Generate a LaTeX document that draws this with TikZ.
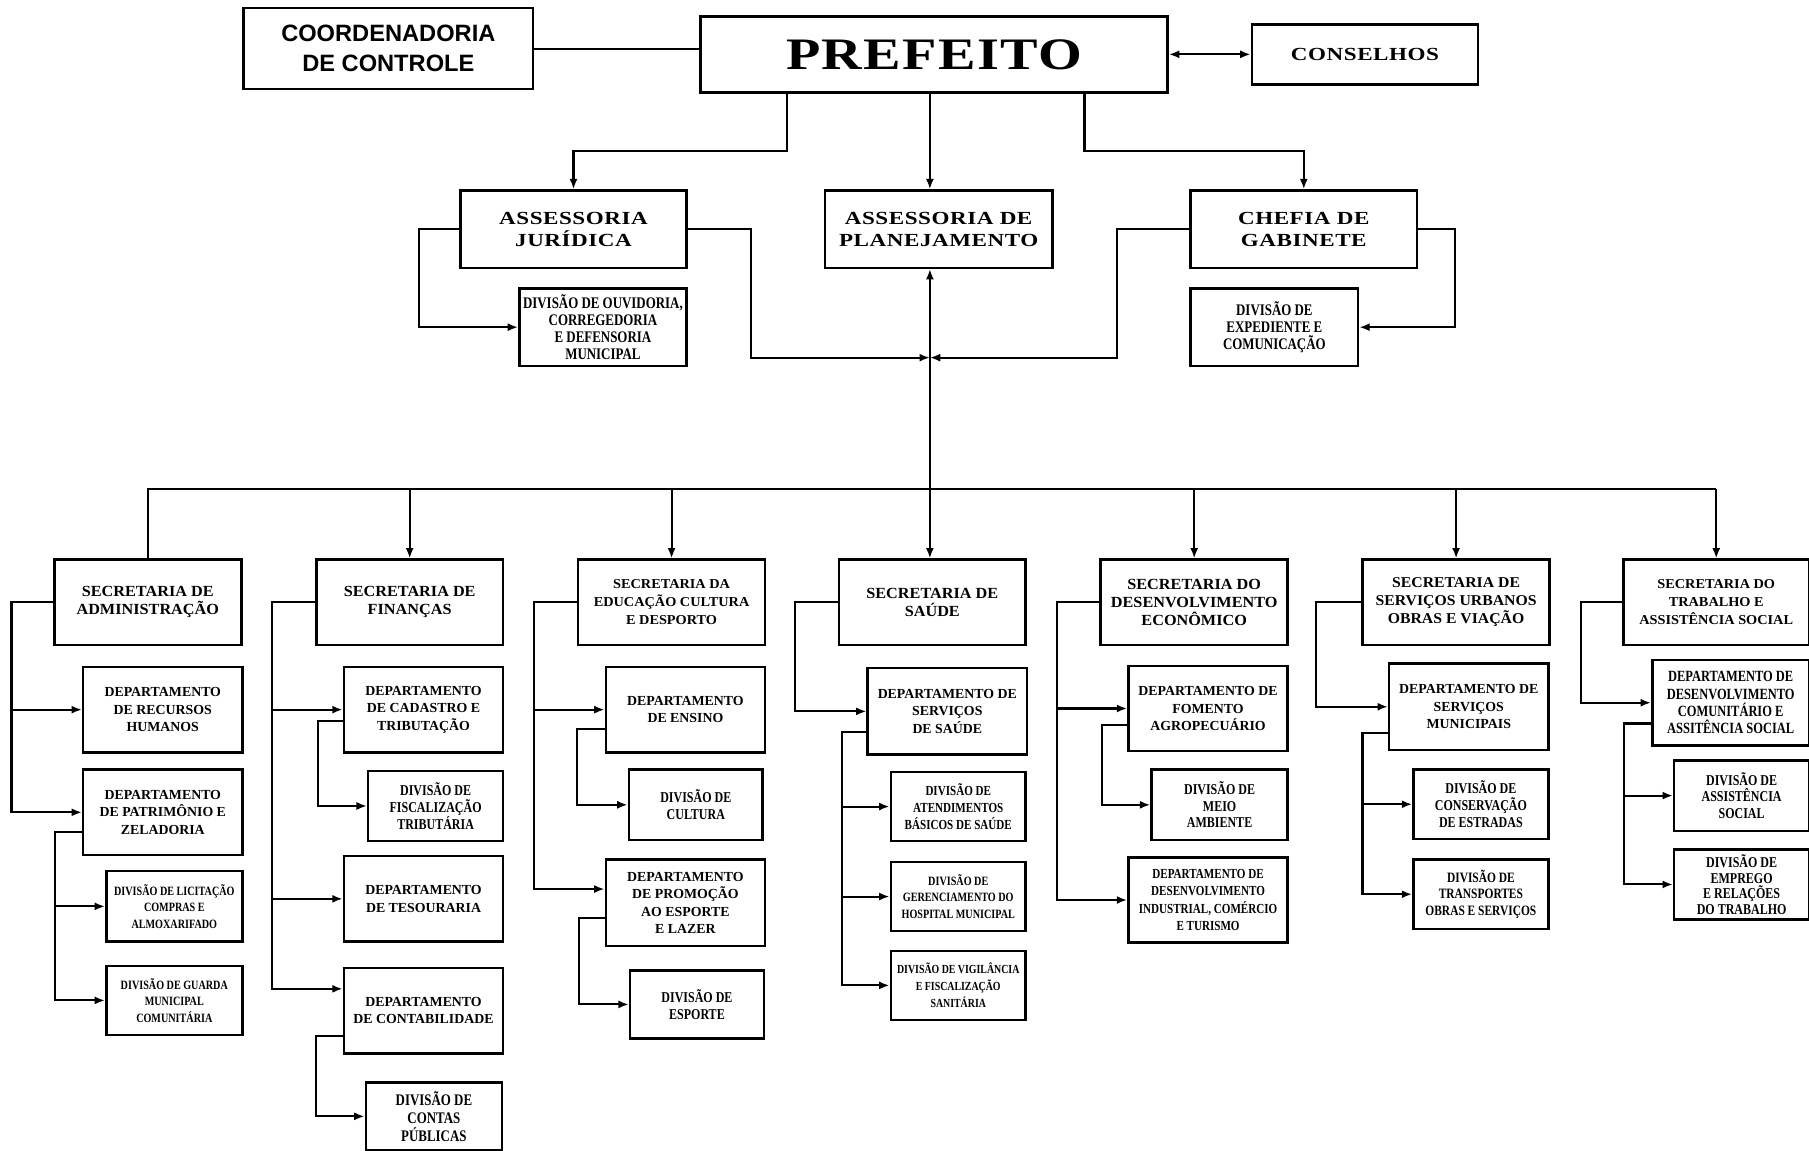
\documentclass[tikz,border=0pt]{standalone}
\usepackage{fontspec}
\setmainfont{Liberation Serif}
\setsansfont{Liberation Sans}
\newfontfamily\wideserif[FakeStretch=1.25,LetterSpace=3]{Liberation Serif}
\newfontfamily\secserif[FakeStretch=1.05]{Liberation Serif}
\newfontfamily\narrowserif[FakeStretch=0.8]{Liberation Serif}
\usetikzlibrary{arrows.meta}

\begin{document}
\begin{tikzpicture}[
  x=1pt, y=-1pt,
  box/.style={
    draw, line width=2.2pt, rectangle, fill=white,
    align=center, inner sep=0pt, anchor=north west
  },
  topbox/.style={box, minimum width=196pt, minimum height=67pt,
    font=\wideserif\bfseries\fontsize{16}{19}\selectfont},
  secbox/.style={box, minimum width=162pt, minimum height=74pt,
    font=\secserif\bfseries\fontsize{13.4}{15.5}\selectfont},
  depbox/.style={box, minimum width=138pt, minimum height=74pt,
    font=\bfseries\fontsize{12}{15}\selectfont},
  divbox/.style={box, minimum width=117pt, minimum height=61pt,
    font=\narrowserif\bfseries\fontsize{11}{14.5}\selectfont},
  divbig/.style={divbox,
    font=\narrowserif\bfseries\fontsize{13}{14.5}\selectfont},
  link/.style={line width=1.8pt},
  arr/.style={link, -{Latex[length=9pt,width=7pt]}},
  dblarr/.style={link, {Latex[length=9pt,width=7pt]}-{Latex[length=9pt,width=7pt]}}
]

\fill[white] (0,0) rectangle (1568,997);
\useasboundingbox (0,0) rectangle (1568,997);

\node[box, minimum width=251pt, minimum height=70pt,
  font=\sffamily\bfseries\fontsize{20.5}{26}\selectfont] (coord) at (210,6) {COORDENADORIA\\DE CONTROLE};

\node[box, minimum width=405pt, minimum height=66pt,
  font=\wideserif\bfseries\fontsize{39}{40}\selectfont] (pref) at (606,13) {PREFEITO};

\node[topbox, minimum height=52pt] (cons) at (1084,20) {CONSELHOS};

\node[topbox] (asjur) at (398,164) {ASSESSORIA\\JURÍDICA};
\node[topbox, minimum width=197pt] (asplan) at (714,164) {ASSESSORIA DE\\PLANEJAMENTO};
\node[topbox] (chefia) at (1031,164) {CHEFIA DE\\GABINETE};

\node[divbox, minimum width=145pt, minimum height=67pt,
  font=\narrowserif\bfseries\fontsize{14}{14.5}\selectfont] (ouv) at (449,249) {DIVISÃO DE OUVIDORIA,\\CORREGEDORIA\\E DEFENSORIA\\MUNICIPAL};
\node[divbox, minimum width=145pt, minimum height=67pt,
  font=\narrowserif\bfseries\fontsize{14}{15}\selectfont] (exped) at (1031,249) {DIVISÃO DE\\EXPEDIENTE E\\COMUNICAÇÃO};

\node[secbox] (secadm) at (46,484) {SECRETARIA DE\\ADMINISTRAÇÃO};
\node[secbox] (secfin) at (273,484) {SECRETARIA DE\\FINANÇAS};
\node[secbox, font=\secserif\bfseries\fontsize{11.8}{15.5}\selectfont] (secedu) at (500,484) {SECRETARIA DA\\EDUCAÇÃO CULTURA\\E DESPORTO};
\node[secbox] (secsau) at (726,484) {SECRETARIA DE\\SAÚDE};
\node[secbox] (secdes) at (953,484) {SECRETARIA DO\\DESENVOLVIMENTO\\ECONÔMICO};
\node[secbox, font=\secserif\bfseries\fontsize{13}{15.5}\selectfont] (securb) at (1180,484) {SECRETARIA DE\\SERVIÇOS URBANOS\\OBRAS E VIAÇÃO};
\node[secbox, minimum width=161pt, font=\secserif\bfseries\fontsize{11.8}{15.5}\selectfont] (sectrab) at (1406,484) {SECRETARIA DO\\TRABALHO E\\ASSISTÊNCIA SOCIAL};

\node[depbox] (deprh) at (71,577) {DEPARTAMENTO\\DE RECURSOS\\HUMANOS};
\node[depbox] (deppat) at (71,666) {DEPARTAMENTO\\DE PATRIMÔNIO E\\ZELADORIA};
\node[divbox, minimum width=118pt] (divlic) at (91,754) {DIVISÃO DE LICITAÇÃO\\COMPRAS E\\ALMOXARIFADO};
\node[divbox, minimum width=118pt, minimum height=60pt] (divgua) at (91,836) {DIVISÃO DE GUARDA\\MUNICIPAL\\COMUNITÁRIA};

\node[depbox] (depcad) at (297,577) {DEPARTAMENTO\\DE CADASTRO E\\TRIBUTAÇÃO};
\node[divbig] (divfis) at (318,667) {DIVISÃO DE\\FISCALIZAÇÃO\\TRIBUTÁRIA};
\node[depbox] (deptes) at (297,741) {DEPARTAMENTO\\DE TESOURARIA};
\node[depbox] (depcont) at (297,838) {DEPARTAMENTO\\DE CONTABILIDADE};
\node[divbig, minimum width=118pt, minimum height=59pt,
  font=\narrowserif\bfseries\fontsize{14}{15.5}\selectfont] (divcon) at (316,937) {DIVISÃO DE\\CONTAS\\PÚBLICAS};

\node[depbox] (depens) at (524,577) {DEPARTAMENTO\\DE ENSINO};
\node[divbig, minimum width=116pt] (divcul) at (544,666) {DIVISÃO DE\\CULTURA};
\node[depbox, minimum height=75pt] (depprom) at (524,744) {DEPARTAMENTO\\DE PROMOÇÃO\\AO ESPORTE\\E LAZER};
\node[divbig, minimum width=116pt, minimum height=59pt] (divesp) at (545,840) {DIVISÃO DE\\ESPORTE};

\node[depbox, minimum height=75pt] (depsau) at (751,578) {DEPARTAMENTO DE\\SERVIÇOS\\DE SAÚDE};
\node[divbig, minimum height=60pt, font=\narrowserif\bfseries\fontsize{12}{14.5}\selectfont] (divate) at (771,668) {DIVISÃO DE\\ATENDIMENTOS\\BÁSICOS DE SAÚDE};
\node[divbox, minimum height=60pt] (divger) at (771,746) {DIVISÃO DE\\GERENCIAMENTO DO\\HOSPITAL MUNICIPAL};
\node[divbox, minimum height=60pt, font=\narrowserif\bfseries\fontsize{10.7}{14.5}\selectfont] (divvig) at (771,823) {DIVISÃO DE VIGILÂNCIA\\E FISCALIZAÇÃO\\SANITÁRIA};

\node[depbox] (depfom) at (977,576) {DEPARTAMENTO DE\\FOMENTO\\AGROPECUÁRIO};
\node[divbig, minimum width=118pt] (divmei) at (997,666) {DIVISÃO DE\\MEIO\\AMBIENTE};
\node[depbox, font=\narrowserif\bfseries\fontsize{12}{15}\selectfont] (depind) at (977,742) {DEPARTAMENTO DE\\DESENVOLVIMENTO\\INDUSTRIAL, COMÉRCIO\\E TURISMO};

\node[depbox, minimum height=75pt] (depmun) at (1203,574) {DEPARTAMENTO DE\\SERVIÇOS\\MUNICIPAIS};
\node[divbig, minimum height=60pt] (divest) at (1224,666) {DIVISÃO DE\\CONSERVAÇÃO\\DE ESTRADAS};
\node[divbig, minimum height=60pt, font=\narrowserif\bfseries\fontsize{12.4}{14.5}\selectfont] (divtra) at (1224,744) {DIVISÃO DE\\TRANSPORTES\\OBRAS E SERVIÇOS};

\node[depbox, minimum width=136pt, font=\narrowserif\bfseries\fontsize{13.5}{15}\selectfont] (depcom) at (1431,571) {DEPARTAMENTO DE\\DESENVOLVIMENTO\\COMUNITÁRIO E\\ASSITÊNCIA SOCIAL};
\node[divbig] (divass) at (1450,658) {DIVISÃO DE\\ASSISTÊNCIA\\SOCIAL};
\node[divbig, font=\narrowserif\bfseries\fontsize{13}{13.5}\selectfont] (divemp) at (1450,735) {DIVISÃO DE\\EMPREGO\\E RELAÇÕES\\DO TRABALHO};

\coordinate (pj) at (682,131);
\coordinate (pc) at (940,131);
\coordinate (bus) at (806,424);
\coordinate (jt) at (651,310);
\coordinate (ct) at (968,310);
\coordinate (jo) at (363,0);
\coordinate (ce) at (1261,0);

\draw[link] (coord.east) -- (coord.east -| pref.west);
\draw[dblarr] (pref.east |- cons.west) -- (cons.west);
\draw[arr] (pj |- pref.south) -- (pj) -| (asjur.north);
\draw[arr] (bus |- pref.south) -- (bus |- asplan.north);
\draw[arr] (pc |- pref.south) -- (pc) -| (chefia.north);

\draw[arr] (asjur.west) -| (jo |- ouv.west) -- (ouv.west);
\draw[arr] (chefia.east) -| (ce |- exped.east) -- (exped.east);
\draw[arr] (asjur.east) -| (jt) -- (jt -| bus);
\draw[arr] (chefia.west) -| (ct) -- (ct -| bus);

\draw[dblarr] (bus |- asplan.south) -- (bus |- secsau.north);
\draw[link] (secadm.north) -- (secadm.north |- bus) -- (sectrab.north |- bus);
\draw[arr] (secfin.north |- bus) -- (secfin.north);
\draw[arr] (secedu.north |- bus) -- (secedu.north);
\draw[arr] (secdes.north |- bus) -- (secdes.north);
\draw[arr] (securb.north |- bus) -- (securb.north);
\draw[arr] (sectrab.north |- bus) -- (sectrab.north);

\coordinate (ra) at (10,0);
\coordinate (rpat) at (48,0);
\draw[arr] (secadm.west) -| (ra |- deppat.west) -- (deppat.west);
\draw[arr] (ra |- deprh.west) -- (deprh.west);
\draw[arr] ([yshift=-17pt]deppat.west) -| (rpat |- divgua.west) -- (divgua.west);
\draw[arr] (rpat |- divlic.west) -- (divlic.west);

\coordinate (rf) at (236,0);
\coordinate (rcad) at (276,0);
\coordinate (rcont) at (274,0);
\coordinate (cf) at ([yshift=19pt]depcont.west);
\draw[arr] (secfin.west) -| (rf |- cf) -- (cf);
\draw[arr] (rf |- depcad.west) -- (depcad.west);
\draw[arr] (rf |- deptes.west) -- (deptes.west);
\draw[arr] ([yshift=-10pt]depcad.west) -| (rcad |- divfis.west) -- (divfis.west);
\draw[arr] ([yshift=-22pt]depcont.west) -| (rcont |- divcon.west) -- (divcon.west);

\coordinate (re) at (463,0);
\coordinate (rens) at (500,0);
\coordinate (rprom) at (502,0);
\coordinate (pe) at ([yshift=12pt]depprom.west);
\draw[arr] (secedu.west) -| (re |- pe) -- (pe);
\draw[arr] (re |- depens.west) -- (depens.west);
\draw[arr] ([yshift=-17pt]depens.west) -| (rens |- divcul.west) -- (divcul.west);
\draw[arr] ([yshift=-13pt]depprom.west) -| (rprom |- divesp.west) -- (divesp.west);

\coordinate (rs) at (689,0);
\coordinate (rsau) at (730,0);
\draw[arr] (secsau.west) -| (rs |- depsau.west) -- (depsau.west);
\draw[arr] ([yshift=-18pt]depsau.west) -| (rsau |- divvig.west) -- (divvig.west);
\draw[arr] (rsau |- divate.west) -- (divate.west);
\draw[arr] (rsau |- divger.west) -- (divger.west);

\coordinate (rd) at (916,0);
\coordinate (rfom) at (955,0);
\draw[arr] (secdes.west) -| (rd |- depind.west) -- (depind.west);
\draw[arr] (rd |- depfom.west) -- (depfom.west);
\draw[arr] ([yshift=-14pt]depfom.west) -| (rfom |- divmei.west) -- (divmei.west);

\coordinate (ru) at (1141,0);
\coordinate (rmun) at (1181,0);
\draw[arr] (securb.west) -| (ru |- depmun.west) -- (depmun.west);
\draw[arr] ([yshift=-23pt]depmun.west) -| (rmun |- divtra.west) -- (divtra.west);
\draw[arr] (rmun |- divest.west) -- (divest.west);

\coordinate (rt) at (1370,0);
\coordinate (rcom) at (1408,0);
\draw[arr] (sectrab.west) -| (rt |- depcom.west) -- (depcom.west);
\draw[arr] ([yshift=-18pt]depcom.west) -| (rcom |- divemp.west) -- (divemp.west);
\draw[arr] (rcom |- divass.west) -- (divass.west);

\end{tikzpicture}
\end{document}
